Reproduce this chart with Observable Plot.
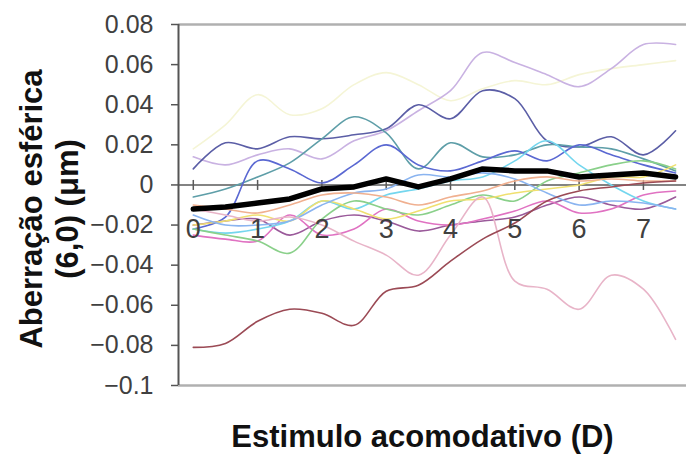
<!DOCTYPE html>
<html><head><meta charset="utf-8">
<script src="https://cdn.jsdelivr.net/npm/d3@7"></script>
<script src="https://cdn.jsdelivr.net/npm/@observablehq/plot@0.6"></script>
<style>body{margin:0;background:#fff} #chart svg{display:block}</style>
</head><body><div id="chart"></div>
<script>
// ---- data ----
const stimulus = [0, 0.5, 1, 1.5, 2, 2.5, 3, 3.5, 4, 4.5, 5, 5.5, 6, 6.5, 7, 7.5];
const xTicks = [0, 1, 2, 3, 4, 5, 6, 7];
const yTicks = [-0.1, -0.08, -0.06, -0.04, -0.02, 0, 0.02, 0.04, 0.06, 0.08];
const xTitle = "Estimulo acomodativo (D)";
const yTitle = "Aberração esférica\n(6,0) (μm)";

const subjectColors = ["#f5f5d6", "#c9b2e2", "#5b5ea6", "#5e9ea8", "#5a68d2", "#9a5a9a", "#e072c2",
  "#74d6ee", "#8ad08a", "#f0e070", "#8ab4f0", "#f0b090", "#e8b4c8", "#9b4a55"];

const s01 = [0.018, 0.030, 0.045, 0.035, 0.038, 0.050, 0.056, 0.050, 0.042, 0.048, 0.052, 0.050, 0.055, 0.058, 0.060, 0.062];
const s02 = [0.014, 0.010, 0.015, 0.018, 0.013, 0.022, 0.027, 0.037, 0.047, 0.066, 0.061, 0.055, 0.049, 0.058, 0.070, 0.070];
const s03 = [0.008, 0.021, 0.018, 0.024, 0.023, 0.025, 0.028, 0.040, 0.033, 0.047, 0.043, 0.022, 0.019, 0.024, 0.015, 0.027];
const s04 = [-0.006, -0.002, 0.004, 0.011, 0.023, 0.034, 0.026, 0.008, 0.021, 0.014, 0.015, 0.020, 0.019, 0.018, 0.013, 0.007];
const s05 = [-0.022, -0.016, 0.012, 0.008, 0.001, 0.010, 0.020, 0.010, 0.007, 0.012, 0.017, 0.012, 0.020, 0.015, 0.010, 0.006];
const s06 = [-0.020, -0.018, -0.017, -0.025, -0.018, -0.015, -0.018, -0.023, -0.020, -0.018, -0.016, -0.010, -0.006, -0.010, -0.012, -0.006];
const s07 = [-0.025, -0.027, -0.028, -0.015, -0.025, -0.022, -0.012, -0.018, -0.020, -0.017, -0.013, -0.008, -0.014, -0.012, -0.005, -0.003];
const s08 = [-0.022, -0.024, -0.022, -0.018, -0.008, -0.012, -0.005, -0.002, 0.002, 0.004, 0.012, 0.022, 0.010, 0.000, -0.008, -0.012];
const s09 = [-0.022, -0.025, -0.028, -0.034, -0.017, -0.008, -0.012, -0.015, -0.010, -0.005, -0.008, 0.002, 0.006, 0.010, 0.012, 0.008];
const s10 = [-0.020, -0.018, -0.015, -0.018, -0.008, -0.012, -0.017, -0.013, -0.008, -0.007, -0.004, -0.002, 0.000, 0.004, 0.004, 0.010];
const s11 = [-0.015, -0.020, -0.020, -0.018, -0.010, -0.004, -0.002, 0.005, 0.004, 0.006, 0.003, -0.004, -0.010, -0.008, -0.009, -0.012];
const s12 = [-0.010, -0.012, -0.014, -0.010, -0.005, -0.004, -0.006, -0.010, -0.006, -0.003, 0.002, 0.004, 0.002, 0.003, 0.002, 0.002];
const s13 = [-0.012, -0.015, -0.018, -0.016, -0.020, -0.028, -0.035, -0.045, -0.025, -0.006, -0.048, -0.052, -0.062, -0.045, -0.052, -0.077];
const s14 = [-0.081, -0.079, -0.068, -0.062, -0.064, -0.070, -0.053, -0.050, -0.038, -0.027, -0.019, -0.008, -0.003, -0.001, 0.001, 0.002];
const meanValues = [-0.012, -0.011, -0.009, -0.007, -0.002, -0.001, 0.003, -0.001, 0.003, 0.008, 0.007, 0.007, 0.004, 0.005, 0.006, 0.004];

const subjects = [s01, s02, s03, s04, s05, s06, s07, s08, s09, s10, s11, s12, s13, s14];

// ---- build ----
const xDomain = [-0.23, 7.67];
const yDomain = [yTicks[0], yTicks[yTicks.length - 1]];
const fmt = d3.format(".2~f");
const vTick = {draw(ctx, size) { const r = Math.sqrt(size / Math.PI); ctx.moveTo(0, -r); ctx.lineTo(0, r); }};

const lineMarks = subjects.map((vals, i) =>
  Plot.line(stimulus.map((x, j) => ({x, y: vals[j]})), {
    x: "x", y: "y", stroke: subjectColors[i], strokeWidth: 1.6, curve: "catmull-rom"
  })
);

const chart = Plot.plot({
  width: 686,
  height: 457,
  marginLeft: 178,
  marginRight: 0,
  marginTop: 24,
  marginBottom: 72,
  style: {fontFamily: "'Liberation Sans', Arial, sans-serif", background: "#fff"},
  x: {domain: xDomain, axis: null},
  y: {domain: yDomain, axis: null},
  marks: [
    Plot.ruleY(yDomain, {stroke: "#b0b0b0", strokeWidth: 2.5}),
    Plot.ruleY([0], {stroke: "#5a5a5a", strokeWidth: 1.5}),
    Plot.dot(xTicks, {x: d => d, y: () => 0, symbol: vTick, r: 5, stroke: "#5a5a5a", strokeWidth: 1.5}),
    ...lineMarks,
    Plot.line(stimulus.map((x, j) => ({x, y: meanValues[j]})), {
      x: "x", y: "y", stroke: "#000", strokeWidth: 5.5, strokeLinejoin: "round", strokeLinecap: "round"
    }),
    Plot.text(xTicks, {x: d => d, y: () => 0, dy: 44, text: d => String(d), fontSize: 27, fill: "#404040"}),
    Plot.ruleX([xDomain[0]], {y1: yDomain[0], y2: yDomain[1], stroke: "#555", strokeWidth: 2}),
    Plot.axisY(yTicks, {tickSize: 7, text: null, stroke: "#555", strokeWidth: 1.5, label: null}),
    Plot.text(yTicks, {frameAnchor: "left", y: d => d, dx: -25, textAnchor: "end", text: fmt,
      fontSize: 25, fill: "#404040"}),
    Plot.text([xTitle], {frameAnchor: "bottom", dx: -10, dy: 61, lineAnchor: "bottom",
      fontSize: 31, fontWeight: "bold", fill: "#111", text: d => d}),
    Plot.text([yTitle], {frameAnchor: "left", dx: -130, dy: 4, rotate: -90, textAnchor: "middle", lineAnchor: "middle",
      lineHeight: 1.15, fontSize: 31, fontWeight: "bold", fill: "#111", text: d => d})
  ]
});
document.getElementById("chart").appendChild(chart);
</script>
</body></html>
